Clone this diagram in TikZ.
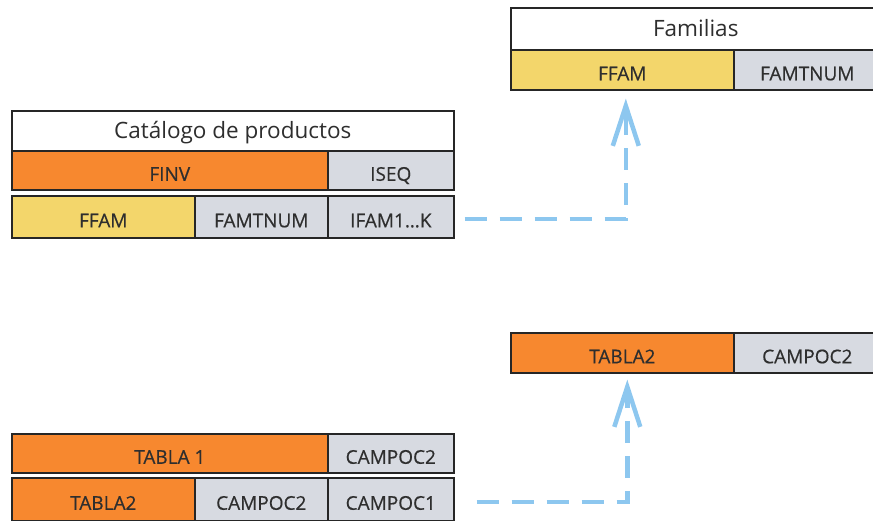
\documentclass[tikz,border=0pt]{standalone}
\usepackage{fontspec}
\setmainfont{Open Sans}
\newfontfamily\cellfont{Open Sans}[FakeBold=0.5]
\usetikzlibrary{arrows.meta}
\definecolor{orangec}{HTML}{F7882F}
\definecolor{yellowc}{HTML}{F3D66B}
\definecolor{greyc}{HTML}{D7DAE1}
\definecolor{linec}{HTML}{262626}
\definecolor{textc}{HTML}{2E2E2E}
\definecolor{arrowc}{HTML}{8DC7EF}
\tikzset{
  cell/.style={draw=linec, line width=1.6pt, inner sep=0pt, anchor=north west,
    text=textc, font=\cellfont\fontsize{19}{22}\selectfont, text height=21pt, text depth=0pt},
  titlecell/.style={cell, fill=white, font=\fontsize{22.5}{26}\selectfont, text height=16pt, text depth=0pt},
  sz/.style 2 args={minimum width=#1pt, minimum height=#2pt},
  conn/.style={draw=arrowc, line width=4.5pt, dash pattern=on 22pt off 13pt,
    -{Straight Barb[length=40pt,width=26pt,line width=4.5pt]}},
}
\begin{document}
\begin{tikzpicture}[x=1pt,y=-1pt]
\useasboundingbox (0,0) rectangle (873,521);
% Catalogo de productos
\node[titlecell, sz={442}{40}] (cat) at (11,110) {Catálogo de productos};
\node[cell, fill=orangec, sz={316}{39}] (finv) at (11,150) {FINV};
\node[cell, fill=greyc, sz={126}{39}] (iseq) at (327,150) {ISEQ};
\node[cell, fill=yellowc, sz={183}{42}] (ffamA) at (11,195) {FFAM};
\node[cell, fill=greyc, sz={133}{42}] (famA) at (194,195) {FAMTNUM};
\node[cell, fill=greyc, sz={126}{42}] (ifam) at (327,195) {IFAM1…K};
% Familias
\node[titlecell, sz={370}{42}] (fam) at (510,7) {Familias};
\node[cell, fill=yellowc, sz={223}{40}] (ffamB) at (510,49) {FFAM};
\node[cell, fill=greyc, sz={147}{40}] (famB) at (733,49) {FAMTNUM};
% bottom right
\node[cell, fill=orangec, sz={223}{40}] (tabB) at (510,332) {TABLA2};
\node[cell, fill=greyc, sz={147}{40}] (campB) at (733,332) {CAMPOC2};
% bottom left
\node[cell, fill=orangec, sz={316}{39}] (tab1) at (11,433) {TABLA 1};
\node[cell, fill=greyc, sz={126}{39}] (camp2a) at (327,433) {CAMPOC2};
\node[cell, fill=orangec, sz={183}{43}] (tab2) at (11,477) {TABLA2};
\node[cell, fill=greyc, sz={133}{43}] (camp2b) at (194,477) {CAMPOC2};
\node[cell, fill=greyc, sz={126}{43}] (camp1) at (327,477) {CAMPOC1};
% connectors
\draw[conn] ([xshift=10pt,yshift=-2pt]ifam.east) -| ([xshift=3.5pt,yshift=-8pt]ffamB.south);
\draw[conn] ([xshift=22pt,yshift=-2.5pt]camp1.east) -| ([xshift=5pt,yshift=-6pt]tabB.south);
\end{tikzpicture}
\end{document}
